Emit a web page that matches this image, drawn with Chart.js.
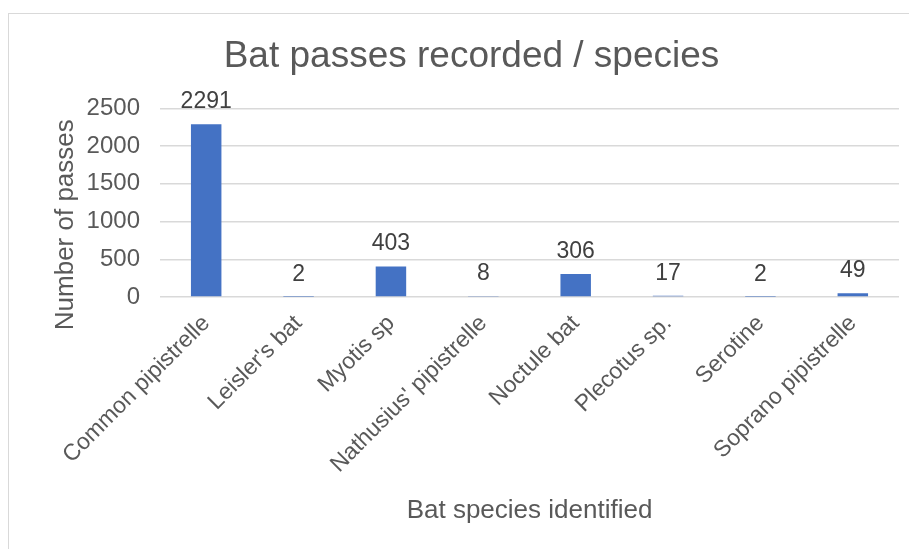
<!DOCTYPE html>
<html>
<head>
<meta charset="utf-8">
<script src="https://cdn.jsdelivr.net/npm/chart.js@4.4.1/dist/chart.umd.min.js"></script>
<style>
  html, body { margin: 0; padding: 0; background: #ffffff; }
  #wrap { position: relative; width: 909px; height: 549px; }
  #frame { position: absolute; left: 8px; top: 13px; right: -2px; bottom: -2px;
           border-left: 1px solid #d9d9d9; border-top: 1px solid #d9d9d9; }
  canvas { position: absolute; left: 0; top: 0; }
</style>
</head>
<body>
<div id="wrap">
  <div id="frame"></div>
  <canvas id="chart" width="909" height="549"></canvas>
</div>
<script>
// Bat detector survey: passes recorded per species
const species = [
  "Common pipistrelle", "Leisler's bat", "Myotis sp", "Nathusius' pipistrelle",
  "Noctule bat", "Plecotus sp.", "Serotine", "Soprano pipistrelle"
];
const passes = [2291, 2, 403, 8, 306, 17, 2, 49];
const yTicks = [0, 500, 1000, 1500, 2000, 2500];

const textColor = '#595959';
const fontFamily = "'Liberation Sans', Arial, sans-serif";

// Draws each bar's value just above the bar, plus the vertical axis title
const valueLabels = {
  id: 'valueLabels',
  afterDatasetsDraw(chart) {
    const ctx = chart.ctx;
    const meta = chart.getDatasetMeta(0);
    ctx.save();
    ctx.font = `23px ${fontFamily}`;
    ctx.fillStyle = '#404040';
    ctx.textAlign = 'center';
    ctx.textBaseline = 'bottom';
    meta.data.forEach((bar, i) => {
      ctx.fillText(String(passes[i]), bar.x, bar.y - 11);
    });

    // "Number of passes", rotated, sitting a little below the plot's middle
    const area = chart.chartArea;
    ctx.translate(66, (area.top + area.bottom) / 2 + 22);
    ctx.rotate(-Math.PI / 2);
    ctx.font = `26px ${fontFamily}`;
    ctx.fillStyle = textColor;
    ctx.textBaseline = 'middle';
    ctx.fillText('Number of passes', 0, 0);
    ctx.restore();
  }
};

new Chart(document.getElementById('chart'), {
  type: 'bar',
  data: {
    labels: species,
    datasets: [{
      data: passes,
      backgroundColor: '#4472C4',
      borderWidth: 0,
      categoryPercentage: 1.0,
      barPercentage: 0.33
    }]
  },
  options: {
    responsive: false,
    animation: false,
    layout: { padding: { left: 44, top: 13, right: 10, bottom: 0 } },
    plugins: {
      legend: { display: false },
      tooltip: { enabled: false },
      title: {
        display: true,
        text: 'Bat passes recorded / species',
        color: textColor,
        font: { family: fontFamily, size: 37, weight: 'normal' },
        padding: { top: 22, bottom: 29 }
      }
    },
    scales: {
      x: {
        grid: { display: false },
        border: { display: false },
        ticks: {
          color: textColor,
          font: { family: fontFamily, size: 23 },
          minRotation: 45,
          maxRotation: 45,
          autoSkip: false,
          padding: 5
        },
        title: {
          display: true,
          text: 'Bat species identified',
          color: textColor,
          font: { family: fontFamily, size: 26 },
          padding: { top: 0, bottom: 23 }
        },
        afterFit(scale) { scale.height = 549 - 297; }
      },
      y: {
        min: 0,
        max: 2500,
        afterBuildTicks(scale) { scale.ticks = yTicks.map(v => ({ value: v })); },
        grid: { color: '#d9d9d9', lineWidth: 1.5, drawTicks: false },
        border: { display: false },
        ticks: {
          color: textColor,
          font: { family: fontFamily, size: 24 },
          padding: 20,
          callback: (v) => String(v)
        },
        afterFit(scale) { scale.width = 160 - 44; }
      }
    }
  },
  plugins: [valueLabels]
});
</script>
</body>
</html>
